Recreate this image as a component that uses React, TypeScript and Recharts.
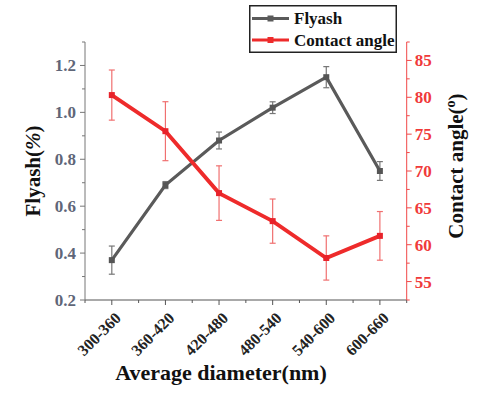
import React from 'react';
import { ComposedChart, Line, XAxis, YAxis, ErrorBar, Legend } from 'recharts';

const categories = ['300-360', '360-420', '420-480', '480-540', '540-600', '600-660'];
const flyash = [0.37, 0.69, 0.88, 1.02, 1.15, 0.75];
const flyashErr = [0.06, 0.015, 0.036, 0.025, 0.045, 0.04];
const contactAngle = [80.3, 75.4, 67.0, 63.2, 58.2, 61.2];
const contactErr = [3.4, 4.0, 3.7, 3.0, 3.0, 3.3];
const leftTicks = [0.2, 0.3, 0.4, 0.5, 0.6, 0.7, 0.8, 0.9, 1.0, 1.1, 1.2, 1.3];
const rightTicks = [52.5, 55, 57.5, 60, 62.5, 65, 67.5, 70, 72.5, 75, 77.5, 80, 82.5, 85, 87.5];

const data = categories.map((c, i) => ({
  range: c,
  flyash: flyash[i],
  flyashErr: flyashErr[i],
  angle: contactAngle[i],
  angleErr: contactErr[i],
}));

const FONT = '"Liberation Serif", "Times New Roman", serif';
const GRAY = '#5a5a5a';
const RED = '#ee2b2b';
const LEFT_LABEL = '#5f6678';
const PLOT_W = 321.7;
const HALF_BAND = PLOT_W / categories.length / 2;

const LeftTick = (props: any) => {
  const { x, y, payload } = props;
  const v = payload.value;
  const major = Math.round(v * 10) % 2 === 0;
  return (
    <g>
      <line x1={x} y1={y} x2={x - (major ? 5 : 3)} y2={y} stroke="#777" strokeWidth={1} />
      {major && (
        <text x={x - 9} y={y} dy="0.35em" textAnchor="end" fontFamily={FONT} fontWeight="bold" fontSize={17} fill={LEFT_LABEL}>
          {v.toFixed(1)}
        </text>
      )}
    </g>
  );
};

const RightTick = (props: any) => {
  const { x, y, payload } = props;
  const v = payload.value;
  const major = v % 5 === 0;
  return (
    <g>
      <line x1={x} y1={y} x2={x + (major ? 5 : 3)} y2={y} stroke="#f04848" strokeWidth={1} />
      {major && (
        <text x={x + 8} y={y} dy="0.35em" textAnchor="start" fontFamily={FONT} fontWeight="bold" fontSize={17} fill="#f03a3a">
          {v}
        </text>
      )}
    </g>
  );
};

const XTick = (props: any) => {
  const { x, y, payload, index, visibleTicksCount } = props;
  const n = visibleTicksCount || categories.length;
  const ax = x + 10;
  const ay = y + 19;
  return (
    <g>
      <line x1={x} y1={y} x2={x} y2={y + 5} stroke="#555" strokeWidth={1} />
      <line x1={x - HALF_BAND} y1={y} x2={x - HALF_BAND} y2={y + 3} stroke="#555" strokeWidth={1} />
      {index === n - 1 && (
        <line x1={x + HALF_BAND} y1={y} x2={x + HALF_BAND} y2={y + 3} stroke="#555" strokeWidth={1} />
      )}
      <text x={ax} y={ay} textAnchor="end" transform={`rotate(-45, ${ax}, ${ay})`} fontFamily={FONT} fontWeight="bold" fontSize={16} fill="#222">
        {payload.value}
      </text>
    </g>
  );
};

const Square = (color: string) => (p: any) => (
  <rect key={`sq-${p.index}`} x={p.cx - 3} y={p.cy - 3} width={6} height={6} fill={color} />
);

const LegendBox = () => (
  <svg width={148} height={48}>
    <rect x={0.75} y={0.75} width={146.5} height={46.5} fill="#fff" stroke="#222" strokeWidth={1.5} />
    <line x1={3} y1={13.5} x2={40} y2={13.5} stroke={GRAY} strokeWidth={3} />
    <rect x={18.5} y={10.5} width={6} height={6} fill={GRAY} />
    <text x={45} y={13.5} dy="0.35em" fontFamily={FONT} fontWeight="bold" fontSize={17} fill="#111">Flyash</text>
    <line x1={3} y1={35} x2={40} y2={35} stroke={RED} strokeWidth={3} />
    <rect x={18.5} y={32} width={6} height={6} fill={RED} />
    <text x={45} y={35} dy="0.35em" fontFamily={FONT} fontWeight="bold" fontSize={17} fill="#111">Contact angle</text>
  </svg>
);

const LeftTitle = () => (
  <text x={40} y={171} textAnchor="middle" transform="rotate(-90, 40, 171)" fontFamily={FONT} fontWeight="bold" fontSize={21} fill="#111">
    Flyash(<tspan fontStyle="italic">%</tspan>)
  </text>
);

const RightTitle = () => (
  <text x={463} y={166} textAnchor="middle" transform="rotate(-90, 463, 166)" fontFamily={FONT} fontWeight="bold" fontSize={21} fill="#111">
    Contact angle(<tspan fontSize={14} dy={-8}>o</tspan><tspan dy={8}>)</tspan>
  </text>
);

const BottomTitle = () => (
  <text x={221} y={380} textAnchor="middle" fontFamily={FONT} fontWeight="bold" fontSize={22} fill="#111">
    Average diameter(nm)
  </text>
);

export default function App() {
  return (
    <div style={{ position: 'absolute', left: 0, top: 0, width: 500, height: 398, background: '#fff' }}>
      <ComposedChart width={500} height={398} data={data} margin={{ top: 42, right: 0, bottom: 0, left: 0 }}>
        <XAxis
          dataKey="range"
          interval={0}
          height={98}
          padding={{ left: HALF_BAND, right: HALF_BAND }}
          tickSize={0}
          tickMargin={0}
          tickLine={false}
          tick={<XTick />}
          axisLine={{ stroke: '#555', strokeWidth: 1 }}
          label={{ content: () => <BottomTitle /> }}
        />
        <YAxis
          yAxisId="left"
          orientation="left"
          width={85}
          domain={[0.2, 1.3]}
          ticks={leftTicks}
          interval={0}
          tickSize={0}
          tickMargin={0}
          tickLine={false}
          tick={<LeftTick />}
          axisLine={{ stroke: '#777', strokeWidth: 1 }}
          allowDataOverflow
          label={{ content: () => <LeftTitle /> }}
        />
        <YAxis
          yAxisId="right"
          orientation="right"
          width={93.3}
          domain={[52.5, 87.5]}
          ticks={rightTicks}
          interval={0}
          tickSize={0}
          tickMargin={0}
          tickLine={false}
          tick={<RightTick />}
          axisLine={{ stroke: '#f04848', strokeWidth: 1 }}
          allowDataOverflow
          label={{ content: () => <RightTitle /> }}
        />
        <Legend
          layout="vertical"
          align="center"
          verticalAlign="middle"
          content={() => <LegendBox />}
          wrapperStyle={{ position: 'absolute', left: 249, top: 5, width: 148, height: 48 }}
        />
        <Line
          yAxisId="left"
          dataKey="flyash"
          name="Flyash"
          stroke={GRAY}
          strokeWidth={3.2}
          dot={Square('#555')}
          activeDot={false}
          isAnimationActive={false}
        >
          <ErrorBar dataKey="flyashErr" width={3} stroke="#777" strokeWidth={1.2} direction="y" isAnimationActive={false} />
        </Line>
        <Line
          yAxisId="right"
          dataKey="angle"
          name="Contact angle"
          stroke={RED}
          strokeWidth={3.8}
          dot={Square('#e8222a')}
          activeDot={false}
          isAnimationActive={false}
        >
          <ErrorBar dataKey="angleErr" width={3} stroke="#f07070" strokeWidth={1.2} direction="y" isAnimationActive={false} />
        </Line>
      </ComposedChart>
    </div>
  );
}
